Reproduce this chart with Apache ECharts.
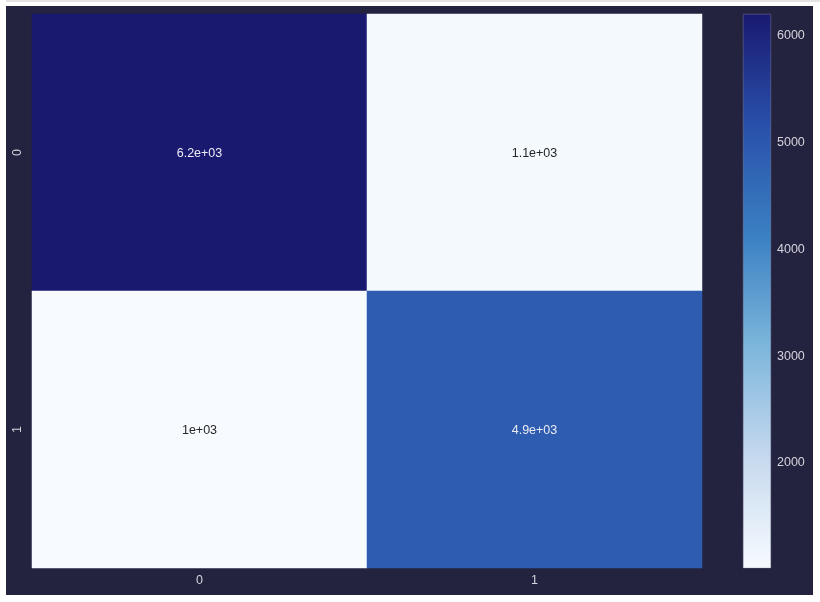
<!DOCTYPE html>
<html><head><meta charset="utf-8">
<style>html,body{margin:0;padding:0;background:#fff;}#c{width:820px;height:602px;}</style>
<script src="https://cdn.jsdelivr.net/npm/echarts@6/dist/echarts.min.js"></script>
</head><body><div id="c"></div>
<script>
const xCategories = ['0', '1'];
const yCategories = ['0', '1'];
// [xIndex, yIndex, value]
const cellValues = [
  [0, 0, 6206],
  [1, 0, 1090],
  [0, 1, 1016],
  [1, 1, 4900]
];
const cellLabels = ['6.2e+03', '1.1e+03', '1e+03', '4.9e+03'];
const colorbarMin = 1016;
const colorbarMax = 6206;
const colorbarTicks = [2000, 3000, 4000, 5000, 6000];
const colorStops = ['#f7fbff', '#c6d9ee', '#7db6dc', '#3a80c2', '#2950aa', '#191970'];

const chart = echarts.init(document.getElementById('c'));
const font = 'Liberation Sans, Arial, sans-serif';
const gradStops = colorStops.map((c, i) => ({ offset: 1 - i / (colorStops.length - 1), color: c }));
chart.setOption({
  backgroundColor: '#ffffff',
  animation: false,
  graphic: [
    { type: 'rect', z: -10, shape: { x: 6, y: 0, width: 814, height: 2 }, style: { fill: '#e3e3e3' }, silent: true },
    { type: 'rect', z: -10, shape: { x: 6, y: 6, width: 807, height: 589 }, style: { fill: '#23223f' }, silent: true }
  ],
  grid: [
    { left: 32, top: 14, width: 670, height: 554 },
    { left: 743, top: 14, width: 28, height: 554 }
  ],
  xAxis: [
    { type: 'category', data: xCategories, gridIndex: 0, position: 'bottom',
      axisLine: { show: false }, axisTick: { show: false }, splitLine: { show: false },
      axisLabel: { color: '#d4d4dc', fontFamily: font, fontSize: 12.5, margin: 6 } },
    { type: 'category', data: ['cb'], gridIndex: 1, show: false }
  ],
  yAxis: [
    { type: 'category', data: yCategories, gridIndex: 0, inverse: true,
      axisLine: { show: false }, axisTick: { show: false }, splitLine: { show: false },
      axisLabel: { color: '#d4d4dc', fontFamily: font, fontSize: 12.5, rotate: 90, margin: 8 } },
    { type: 'value', gridIndex: 1, position: 'right', min: colorbarMin, max: colorbarMax,
      axisLine: { show: false }, axisTick: { show: false }, splitLine: { show: false },
      axisLabel: { color: '#d4d4dc', fontFamily: font, fontSize: 12.5, margin: 6,
        customValues: colorbarTicks, formatter: v => String(v), padding: [2, 0, 0, 0] } }
  ],
  visualMap: {
    type: 'continuous', min: colorbarMin, max: colorbarMax, seriesIndex: 0, show: false,
    inRange: { color: colorStops }
  },
  series: [{
    type: 'heatmap', xAxisIndex: 0, yAxisIndex: 0,
    data: cellValues.map(d => ({ value: d, label: { color: d[2] > 3500 ? '#ececf4' : '#262626' } })),
    label: {
      show: true, fontFamily: font, fontSize: 12.5, offset: [0, 1.5],
      formatter: p => cellLabels[p.dataIndex]
    },
    itemStyle: { borderWidth: 0 },
    emphasis: { disabled: true }
  }, {
    type: 'bar', xAxisIndex: 1, yAxisIndex: 1, barWidth: '100%',
    data: [colorbarMax], silent: true,
    itemStyle: {
      borderColor: '#8a8aa4', borderWidth: 0.4,
      color: { type: 'linear', x: 0, y: 0, x2: 0, y2: 1, colorStops: gradStops.slice().reverse() }
    }
  }]
});
</script></body></html>
